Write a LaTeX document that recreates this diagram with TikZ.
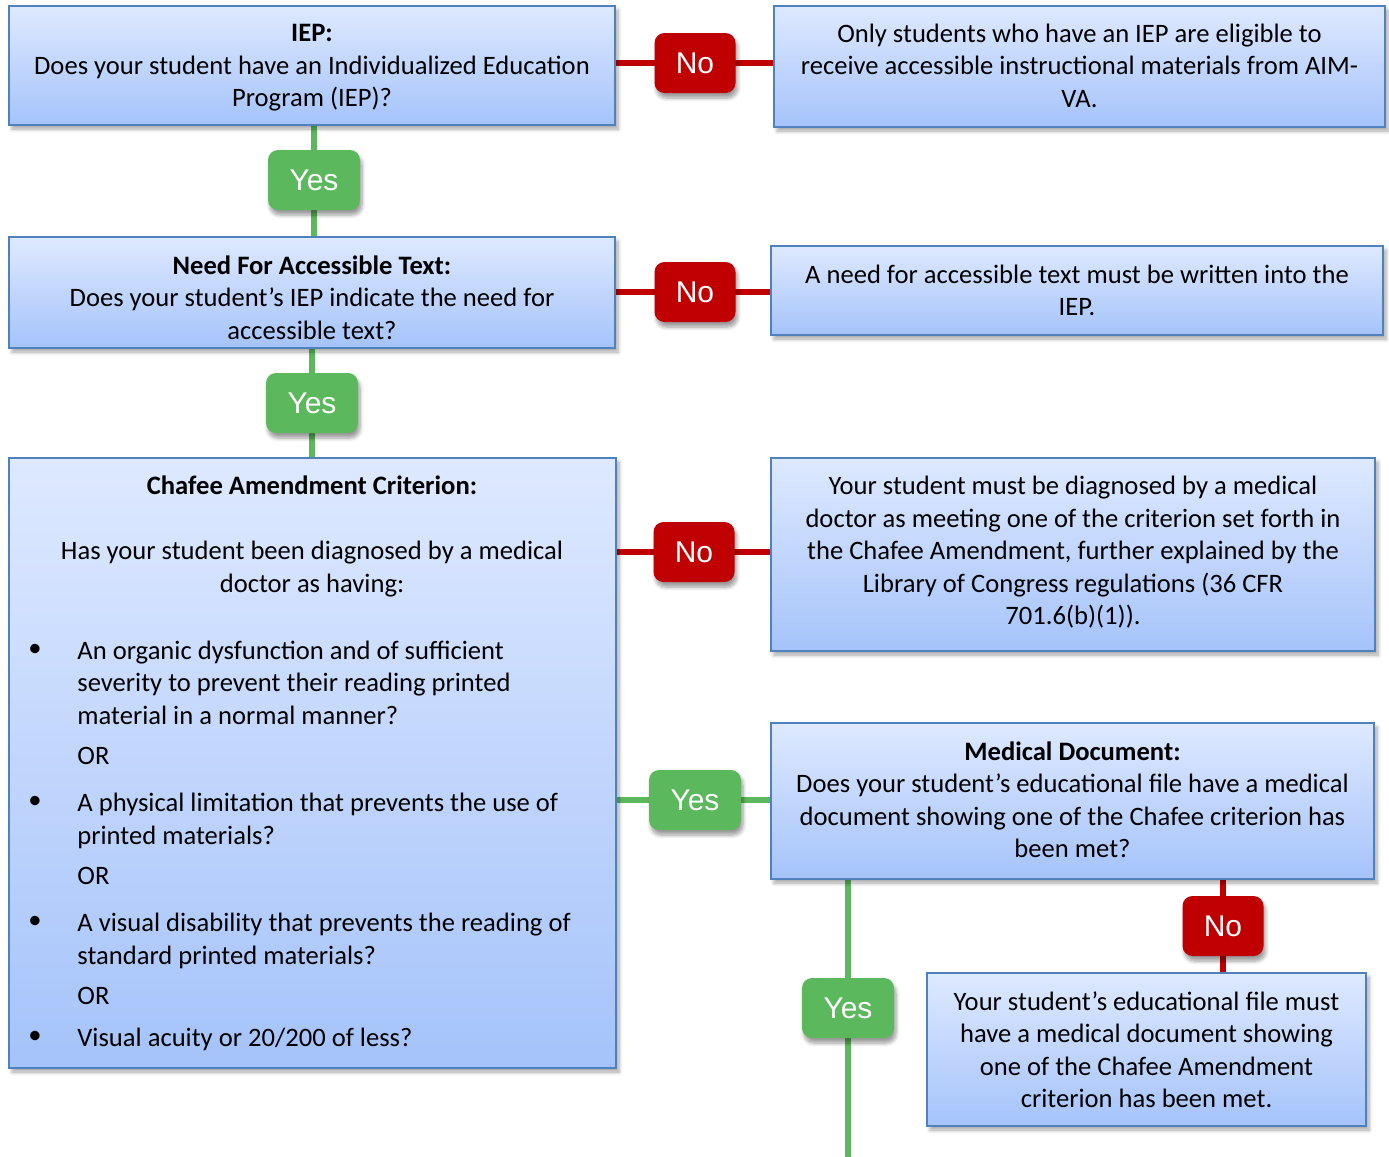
\documentclass[tikz,border=0pt]{standalone}
\usepackage{fontspec}
\setmainfont{Carlito}
\newfontfamily\lblfont{Liberation Sans}
\usetikzlibrary{fit,shadows.blur,calc}
\definecolor{boxtop}{RGB}{222,233,255}
\definecolor{boxbot}{RGB}{165,195,250}
\definecolor{boxline}{RGB}{79,129,189}
\definecolor{nored}{RGB}{192,0,0}
\definecolor{yesgreen}{RGB}{92,184,92}
\pgfdeclarelayer{bg}
\pgfsetlayers{bg,main}
\begin{document}
\begin{tikzpicture}[x=0.5pt,y=-0.5pt,
 box/.style={draw=boxline, line width=1pt, top color=boxtop, bottom color=boxbot, inner sep=0pt,
   blur shadow={shadow xshift=1.5pt, shadow yshift=-2pt, shadow opacity=35, shadow blur steps=6}},
 btext/.style={align=center, inner sep=0pt, font=\fontsize{13.3}{16.25}\selectfont},
 lbl/.style={rounded corners=5pt, text=white, font=\lblfont\fontsize{15}{18}\selectfont, minimum height=30pt, inner sep=0pt,
   blur shadow={shadow xshift=1pt, shadow yshift=-2.5pt, shadow opacity=40, shadow blur steps=6}},
 nolbl/.style={lbl, fill=nored, minimum width=40.5pt},
 yeslbl/.style={lbl, fill=yesgreen, minimum width=46pt},
 noline/.style={draw=nored, line width=3pt},
 yesline/.style={draw=yesgreen, line width=3pt},
 body/.style={font=\fontsize{13.3}{16.25}\selectfont, anchor=base west, inner sep=0pt},
 bodyc/.style={font=\fontsize{13.3}{16.25}\selectfont, anchor=base, inner sep=0pt},
 bul/.style={font=\fontsize{13.3}{16.25}\selectfont, inner sep=0pt}
]
\useasboundingbox (0,0) rectangle (1389,1157);

% boxes
\node[box, fit={(9,6) (615,125)}] (iep) {};
\node[box, fit={(774,6) (1385,127)}] (r1) {};
\node[box, fit={(9,237) (615,348)}] (need) {};
\node[box, fit={(771,246) (1383,335)}] (r2) {};
\node[box, fit={(9,458) (616,1068)}] (chafee) {};
\node[box, fit={(771,458) (1375,651)}] (r3) {};
\node[box, fit={(771,723) (1374,879)}] (med) {};
\node[box, fit={(927,973) (1366,1126)}] (bot) {};

% box texts
\node[btext] (iept) at (312,68) {\textbf{IEP:}\\Does your student have an Individualized Education\\Program (IEP)?};
\node[btext] (r1t) at (1079.5,65.5) {Only students who have an IEP are eligible to\\receive accessible instructional materials from AIM-\\VA.};
\node[btext] (needt) at (312,297.5) {\textbf{Need For Accessible Text:}\\Does your student’s IEP indicate the need for\\accessible text?};
\node[btext] (r2t) at (1077,290.5) {A need for accessible text must be written into the\\IEP.};
\node[btext] (r3t) at (1073,552.5) {Your student must be diagnosed by a medical\\doctor as meeting one of the criterion set forth in\\the Chafee Amendment, further explained by the\\Library of Congress regulations (36 CFR\\701.6(b)(1)).};
\node[btext] (medt) at (1072.5,800) {\textbf{Medical Document:}\\Does your student’s educational file have a medical\\document showing one of the Chafee criterion has\\been met?};
\node[btext] (bott) at (1146.5,1049.5) {Your student’s educational file must\\have a medical document showing\\one of the Chafee Amendment\\criterion has been met.};

% Chafee text
\node[bodyc] (ct) at (312,494) {\textbf{Chafee Amendment Criterion:}};
\node[bodyc] (cq1) at (312,559) {Has your student been diagnosed by a medical};
\node[bodyc] (cq2) at (312,592) {doctor as having:};
\node[bul] (b1) at (35,650) {•};
\node[body] (c1) at (77,659) {An organic dysfunction and of sufficient};
\node[body] (c2) at (77,691) {severity to prevent their reading printed};
\node[body] (c3) at (77,724) {material in a normal manner?};
\node[body] (or1) at (77,764) {OR};
\node[bul] (b2) at (35,802) {•};
\node[body] (c4) at (77,811) {A physical limitation that prevents the use of};
\node[body] (c5) at (77,844) {printed materials?};
\node[body] (or2) at (77,884) {OR};
\node[bul] (b3) at (35,922) {•};
\node[body] (c6) at (77,931) {A visual disability that prevents the reading of};
\node[body] (c7) at (77,964) {standard printed materials?};
\node[body] (or3) at (77,1004) {OR};
\node[bul] (b4) at (35,1037) {•};
\node[body] (c8) at (77,1046) {Visual acuity or 20/200 of less?};

% labels
\node[nolbl] (no1) at (695,63) {No};
\node[yeslbl] (yes1) at (314,180) {Yes};
\node[nolbl] (no2) at (695,292) {No};
\node[yeslbl] (yes2) at (312,403) {Yes};
\node[nolbl] (no3) at (694,552) {No};
\node[yeslbl] (yes3) at (695,800) {Yes};
\node[nolbl] (no4) at (1223,926) {No};
\node[yeslbl] (yes4) at (848,1008) {Yes};
\coordinate (end) at (848,1157);

\begin{pgfonlayer}{bg}
\draw[noline] (iep.east |- no1) -- (r1.west |- no1);
\draw[yesline] (iep.south -| yes1) -- (need.north -| yes1);
\draw[noline] (need.east |- no2) -- (r2.west |- no2);
\draw[yesline] (need.south -| yes2) -- (chafee.north -| yes2);
\draw[noline] (chafee.east |- no3) -- (r3.west |- no3);
\draw[yesline] (chafee.east |- yes3) -- (med.west |- yes3);
\draw[noline] (med.south -| no4) -- (bot.north -| no4);
\draw[yesline] (med.south -| yes4) -- (end);
\end{pgfonlayer}
\end{tikzpicture}
\end{document}
